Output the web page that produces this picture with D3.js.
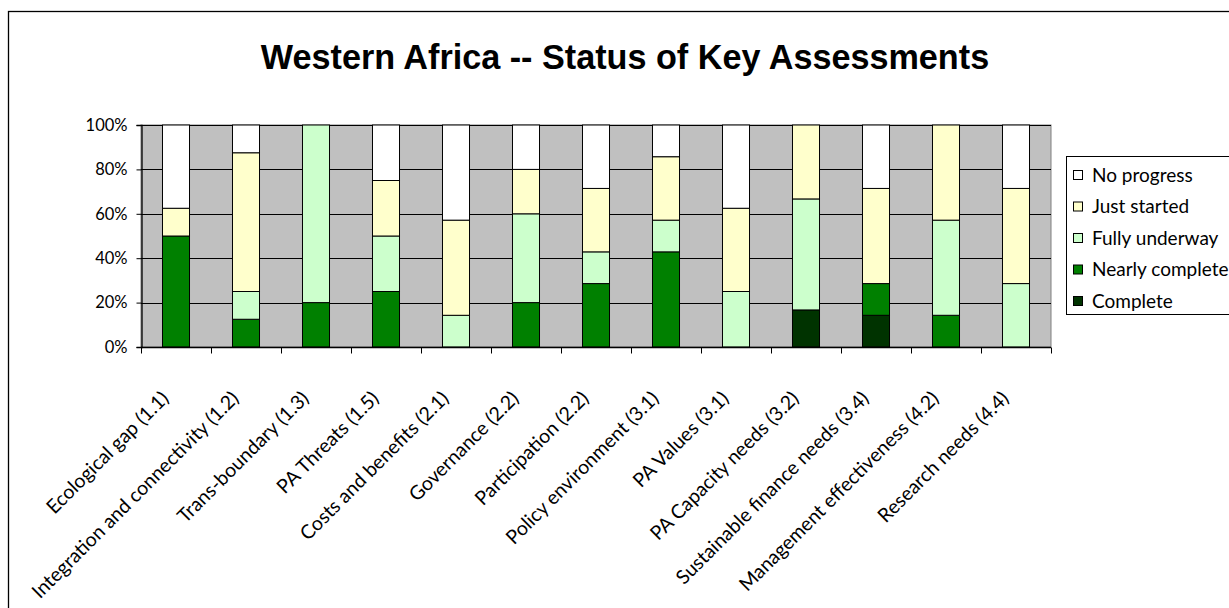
<!DOCTYPE html>
<html>
<head>
<meta charset="utf-8">
<script src="https://cdn.jsdelivr.net/npm/d3@7"></script>
<style>
  html, body { margin: 0; padding: 0; background: #fff; }
  svg { display: block; }
</style>
</head>
<body>
<svg id="chart" width="1229" height="608"></svg>
<script>
// ---------- data ----------
const title = "Western Africa -- Status of Key Assessments";
const categories = [
  "Ecological gap (1.1)",
  "Integration and connectivity (1.2)",
  "Trans-boundary (1.3)",
  "PA Threats (1.5)",
  "Costs and benefits (2.1)",
  "Governance (2.2)",
  "Participation (2.2)",
  "Policy environment (3.1)",
  "PA Values (3.1)",
  "PA Capacity needs (3.2)",
  "Sustainable finance needs (3.4)",
  "Management effectiveness (4.2)",
  "Research needs (4.4)"
];
const seriesNames = ["Complete", "Nearly complete", "Fully underway", "Just started", "No progress"];
const complete       = [0, 0, 0, 0, 0, 0, 0, 0, 0, 16.7, 14.3, 0, 0];
const nearlyComplete = [50, 12.5, 20, 25, 0, 20, 28.6, 42.9, 0, 0, 14.3, 14.3, 0];
const fullyUnderway  = [0, 12.5, 80, 25, 14.3, 40, 14.3, 14.3, 25, 50, 0, 42.9, 28.6];
const justStarted    = [12.5, 62.5, 0, 25, 42.9, 20, 28.6, 28.6, 37.5, 33.3, 42.9, 42.9, 42.9];
const noProgress     = [37.5, 12.5, 0, 25, 42.9, 20, 28.6, 14.3, 37.5, 0, 28.6, 0, 28.6];
const yTicks = [0, 0.2, 0.4, 0.6, 0.8, 1.0];
const legendOrder = ["No progress", "Just started", "Fully underway", "Nearly complete", "Complete"];

// ---------- styles ----------
const colors = {
  "Complete": "#003300",
  "Nearly complete": "#008000",
  "Fully underway": "#CCFFCC",
  "Just started": "#FFFFCC",
  "No progress": "#FFFFFF"
};
const labelFont = "Lato, 'Open Sans', sans-serif";

const svg = d3.select("#chart");

// table built from the arrays
const seriesValues = [complete, nearlyComplete, fullyUnderway, justStarted, noProgress];
const table = categories.map((c, i) => {
  const row = { category: c };
  seriesNames.forEach((s, j) => row[s] = seriesValues[j][i]);
  return row;
});
const stacked = d3.stack().keys(seriesNames).offset(d3.stackOffsetExpand)(table);

// ---------- layout ----------
const plot = { left: 141, top: 125, right: 1051, bottom: 347 };

// outer chart frame
svg.append("rect")
  .attr("x", 8.5).attr("y", 11.5)
  .attr("width", 1300).attr("height", 700)
  .attr("fill", "#fff").attr("stroke", "#000").attr("stroke-width", 1.3);

// title
svg.append("text")
  .attr("x", 625).attr("y", 69)
  .attr("text-anchor", "middle")
  .attr("font-family", "'Liberation Sans', Arial, sans-serif")
  .attr("font-weight", "bold")
  .attr("font-size", 34.2)
  .attr("fill", "#000")
  .text(title);

const x = d3.scaleBand().domain(categories).range([plot.left, plot.right]).padding(0);
const y = d3.scaleLinear().domain([0, 1]).range([plot.bottom, plot.top]);
const barW = x.bandwidth() * 0.386;

// plot background
svg.append("rect")
  .attr("x", plot.left).attr("y", plot.top)
  .attr("width", plot.right - plot.left).attr("height", plot.bottom - plot.top)
  .attr("fill", "#C0C0C0").attr("stroke", "#808080").attr("stroke-width", 1);

// gridlines
svg.append("g").selectAll("line")
  .data(yTicks.filter(d => d > 0))
  .join("line")
  .attr("x1", plot.left).attr("x2", plot.right)
  .attr("y1", d => Math.round(y(d)) + 0.5).attr("y2", d => Math.round(y(d)) + 0.5)
  .attr("stroke", "#000").attr("stroke-width", 1);

// bars
const g = svg.append("g");
stacked.forEach(layer => {
  g.append("g").selectAll("rect")
    .data(layer.filter(d => d[1] - d[0] > 0.0001))
    .join("rect")
    .attr("x", d => x(d.data.category) + (x.bandwidth() - barW) / 2)
    .attr("width", barW)
    .attr("y", d => y(d[1]))
    .attr("height", d => y(d[0]) - y(d[1]))
    .attr("fill", colors[layer.key])
    .attr("stroke", "#000")
    .attr("stroke-width", 1);
});

// y axis
const yAxis = d3.axisLeft(y).tickValues(yTicks).tickFormat(d3.format(".0%")).tickSize(5).tickPadding(9);
const ya = svg.append("g").attr("transform", `translate(${plot.left + 0.5},0)`).call(yAxis);
ya.select(".domain").attr("stroke", "#000").attr("stroke-width", 1.3);
ya.selectAll(".tick line").attr("stroke", "#000");
ya.selectAll(".tick text")
  .attr("font-family", labelFont).attr("font-size", 16.5).attr("fill", "#000");

// x axis with ticks on category boundaries
const xa = svg.append("g").attr("transform", `translate(0,${plot.bottom + 0.5})`);
xa.append("line")
  .attr("x1", plot.left).attr("x2", plot.right)
  .attr("stroke", "#000").attr("stroke-width", 1.3);
const boundaries = categories.map(c => x(c)).concat([x(categories[categories.length - 1]) + x.bandwidth()]);
xa.selectAll("line.tk").data(boundaries).join("line")
  .attr("class", "tk")
  .attr("x1", d => Math.round(d) + 0.5).attr("x2", d => Math.round(d) + 0.5)
  .attr("y1", 0).attr("y2", 6)
  .attr("stroke", "#000");
xa.selectAll("text").data(categories).join("text")
  .attr("transform", d => `translate(${x(d) + x.bandwidth() / 2 - 6},52) rotate(-45)`)
  .attr("text-anchor", "end")
  .attr("font-family", labelFont).attr("font-size", 19.5)
  .attr("fill", "#000")
  .text(d => d);

// legend
const lg = svg.append("g").attr("transform", "translate(1066,156)");
lg.append("rect")
  .attr("x", 0.5).attr("y", 0.5).attr("width", 200).attr("height", 158)
  .attr("fill", "#fff").attr("stroke", "#000").attr("stroke-width", 1);
const items = lg.selectAll("g.item").data(legendOrder).join("g")
  .attr("class", "item")
  .attr("transform", (d, i) => `translate(0,${19 + i * 31.5})`);
items.append("rect")
  .attr("x", 7.5).attr("y", -4.5).attr("width", 9).attr("height", 9)
  .attr("fill", d => colors[d]).attr("stroke", "#000").attr("stroke-width", 1);
items.append("text")
  .attr("x", 26).attr("y", 0).attr("dy", "0.36em")
  .attr("font-family", labelFont).attr("font-size", 19)
  .attr("fill", "#000")
  .text(d => d);
</script>
</body>
</html>
